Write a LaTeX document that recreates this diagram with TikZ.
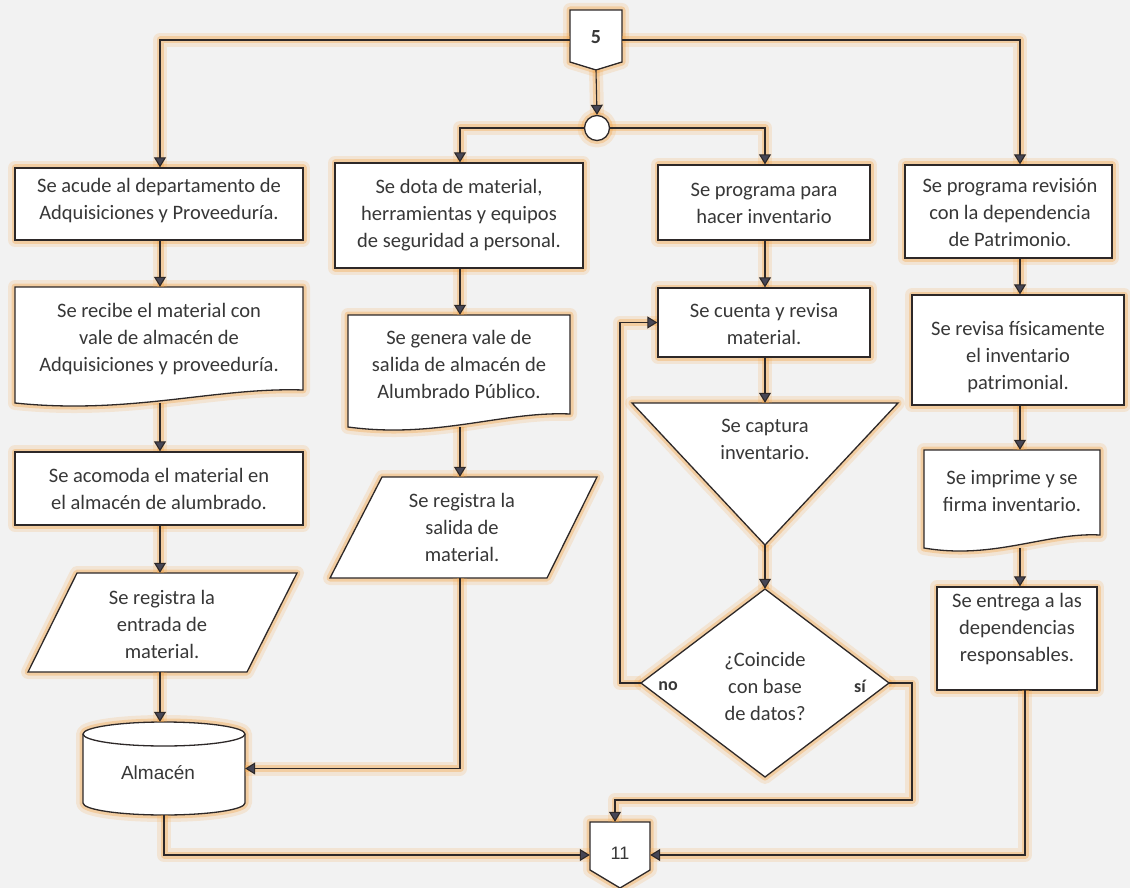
\documentclass[tikz,border=0pt]{standalone}
\usepackage{fontspec}
\setmainfont{Carlito}
\newfontfamily\arialf{Liberation Sans}
\usetikzlibrary{arrows.meta,calc}
\definecolor{glowc}{RGB}{245,160,60}
\definecolor{ink}{RGB}{45,40,40}
\definecolor{tipc}{RGB}{70,70,85}
\definecolor{txtc}{RGB}{55,55,55}
\definecolor{paper}{RGB}{242,242,242}
\tikzset{
  glow/.style={
    preaction={draw=glowc, line width=14pt, opacity=0.16, arrows=-, line join=round},
    preaction={draw=glowc, line width=7pt, opacity=0.33, arrows=-, line join=round}},
  shp/.style={glow, draw=ink, line width=1.3pt, fill=white, line join=miter},
  box/.style={shp, rectangle, inner sep=0pt},
  bbox/.style={rectangle, inner sep=0pt},
  txt/.style={font=\fontsize{20.5}{27}\selectfont, align=center, text=txtc, inner sep=0pt},
  conn/.style={glow, draw=ink, line width=1.1pt},
  arr/.style={conn, -{Triangle[width=12pt,length=10pt,fill=tipc]}}
}
\begin{document}
\begin{tikzpicture}[x=1pt,y=-1pt]
\useasboundingbox (0,0) rectangle (1130,888);
\fill[paper] (0,0) rectangle (1130,888);

% column reference coordinates
\coordinate (colA) at (160,0);
\coordinate (colB) at (460,0);
\coordinate (colC) at (765,0);
\coordinate (colD) at (1020,0);

% ---------- off-page connector 5 and junction ----------
\path[shp] (570,10) -- (622,10) -- (622,62) -- (596,70) -- (570,62) -- cycle;
\node[bbox, minimum width=52pt, minimum height=60pt] (n5) at (596,40) {};
\node[txt, font=\fontsize{20}{24}\selectfont\bfseries] (n5t) at (596,37) {5};
\node[shp, circle, minimum size=25pt, inner sep=0pt] (circ) at (597,128) {};

% ---------- column A ----------
\node[box, minimum width=288pt, minimum height=72pt] (a1) at (159,204) {};
\node[txt] (a1t) at (159,201) {Se acude al departamento de\\Adquisiciones y Proveeduría.};

\path[shp] (15,287) -- (303,287) -- (303,390) .. controls (216,387) and (130,415) .. (15,403) -- cycle;
\node[bbox, minimum width=288pt, minimum height=116pt] (a2) at (159,345) {};
\node[txt] (a2t) at (159,339) {Se recibe el material con\\vale de almacén de\\Adquisiciones y proveeduría.};

\node[box, minimum width=288pt, minimum height=73pt] (a3) at (159,488.5) {};
\node[txt] (a3t) at (159,489) {Se acomoda el material en\\el almacén de alumbrado.};

\path[shp] (77,573) -- (297,573) -- (247,672) -- (28,672) -- cycle;
\node[bbox, minimum width=269pt, minimum height=99pt] (a4) at (162.5,622.5) {};
\node[txt] (a4t) at (162,624) {Se registra la\\entrada de\\material.};

\path[shp] (83,734) -- (83,803) arc[start angle=180, end angle=360, x radius=81pt, y radius=12pt]
  -- (245,734) arc[start angle=0, end angle=180, x radius=81pt, y radius=12pt] -- cycle;
\draw[ink, line width=1.3pt] (83,734) arc[start angle=180, end angle=360, x radius=81pt, y radius=12pt];
\node[bbox, minimum width=162pt, minimum height=93pt] (alm) at (164,768.5) {};
\node[txt, font=\fontsize{19}{22}\arialf] (almt) at (158,773) {Almacén};

% ---------- column B ----------
\node[box, minimum width=248pt, minimum height=105pt] (b1) at (459,215.5) {};
\node[txt] (b1t) at (459,215) {Se dota de material,\\herramientas y equipos\\de seguridad a personal.};

\path[shp] (348,315) -- (570,315) -- (570,414) .. controls (503,411) and (437,439) .. (348,427) -- cycle;
\node[bbox, minimum width=222pt, minimum height=112pt] (b2) at (459,371) {};
\node[txt] (b2t) at (459,364) {Se genera vale de\\salida de almacén de\\Alumbrado Público.};

\path[shp] (382,477) -- (597,477) -- (547,578) -- (330,578) -- cycle;
\node[bbox, minimum width=267pt, minimum height=101pt] (b3) at (463.5,527.5) {};
\node[txt] (b3t) at (462,527) {Se registra la\\salida de\\material.};

% ---------- column C ----------
\node[box, minimum width=212pt, minimum height=75pt] (c1) at (764,202.5) {};
\node[txt] (c1t) at (764,203) {Se programa para\\hacer inventario};

\node[box, minimum width=212pt, minimum height=69pt] (c2) at (764,322.5) {};
\node[txt] (c2t) at (764,324) {Se cuenta y revisa\\material.};

\path[shp] (632,403) -- (898,403) -- (765,545) -- cycle;
\node[bbox, minimum width=266pt, minimum height=142pt] (c3) at (765,474) {};
\node[txt] (c3t) at (765,439) {Se captura\\inventario.};

\path[shp] (765,589) -- (889,683) -- (765,777) -- (641,683) -- cycle;
\node[bbox, minimum width=248pt, minimum height=188pt] (c4) at (765,683) {};
\node[txt] (c4t) at (765,686) {¿Coincide\\con base\\de datos?};
\node[txt, font=\fontsize{18}{22}\selectfont\bfseries] (nolab) at (668,686) {no};
\node[txt, font=\fontsize{18}{22}\selectfont\bfseries] (silab) at (860,686) {sí};

% ---------- column D ----------
\node[box, minimum width=207pt, minimum height=93pt] (d1) at (1008.5,211.5) {};
\node[txt] (d1t) at (1010,213) {Se programa revisión\\con la dependencia\\de Patrimonio.};

\node[box, minimum width=212pt, minimum height=110pt] (d2) at (1018,350) {};
\node[txt] (d2t) at (1018,357) {Se revisa físicamente\\el inventario\\patrimonial.};

\path[shp] (924,450) -- (1100,450) -- (1100,535) .. controls (1047,532) and (994,560) .. (924,548) -- cycle;
\node[bbox, minimum width=176pt, minimum height=98pt] (d3) at (1012,499) {};
\node[txt] (d3t) at (1012,491) {Se imprime y se\\firma inventario.};

\node[box, minimum width=160pt, minimum height=103pt] (d4) at (1017,638.5) {};
\node[txt] (d4t) at (1017,629) {Se entrega a las\\dependencias\\responsables.};

% ---------- off-page connector 11 ----------
\path[shp] (590,822) -- (650,822) -- (650,870) -- (620,888) -- (590,870) -- cycle;
\node[bbox, minimum width=60pt, minimum height=66pt] (n11) at (620,855) {};
\node[txt, font=\fontsize{18}{22}\arialf] (n11t) at (620,853) {11};

% ---------- connectors ----------
\coordinate (siA) at (912,800);
\coordinate (siB) at (615,800);
\coordinate (noA) at (620,683);
\coordinate (dout) at (1025,690);

\draw[arr] (n5.west) -| (colA |- a1.north);
\draw[arr] (n5.east) -| (colD |- d1.north);
\draw[arr] (n5.south) -- (circ.north);
\draw[arr] (circ.west) -| (colB |- b1.north);
\draw[arr] (circ.east) -| (colC |- c1.north);

\draw[arr] (colA |- a1.south) -- (colA |- a2.north);
\draw[arr] (colA |- a2.south) -- (colA |- a3.north);
\draw[arr] (colA |- a3.south) -- (colA |- a4.north);
\draw[arr] (colA |- a4.south) -- (colA |- alm.north);
\draw[arr] (alm.south) |- (n11.west);

\draw[arr] (colB |- b1.south) -- (colB |- b2.north);
\draw[arr] (colB |- b2.south) -- (colB |- b3.north);
\draw[arr] (colB |- b3.south) |- (alm.east);

\draw[arr] (colC |- c1.south) -- (colC |- c2.north);
\draw[arr] (colC |- c2.south) -- (colC |- c3.north);
\draw[arr] (c3.south) -- (c4.north);
\draw[arr] (c4.west) -- (noA) |- (c2.west);
\draw[arr] (c4.east) -| (siA) -- (siB) -- (siB |- n11.north);

\draw[arr] (colD |- d1.south) -- (colD |- d2.north);
\draw[arr] (colD |- d2.south) -- (colD |- d3.north);
\draw[arr] (colD |- d3.south) -- (colD |- d4.north);
\draw[arr] (dout) |- (n11.east);
\end{tikzpicture}
\end{document}
